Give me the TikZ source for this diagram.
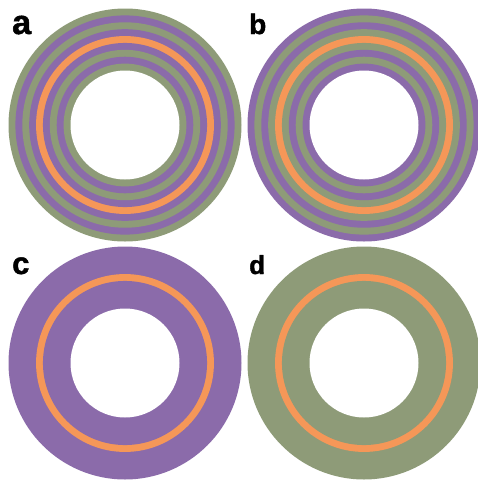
\documentclass[tikz,border=0pt]{standalone}
\usepackage{fontspec}
\setmainfont{Liberation Sans}
\newfontfamily\heavyfont[UprightFont={* Bold},FakeBold=1.5]{Liberation Sans}
\definecolor{ringgreen}{RGB}{142,155,120}
\definecolor{ringpurple}{RGB}{139,107,170}
\definecolor{ringorange}{RGB}{245,151,88}
\newcommand\ringset[3]{%
  \foreach \c [count=\i from 0] in {#3}{\fill[\c] (#1,#2) circle ({116.5-\i*6.889});}%
  \fill[white] (#1,#2) circle (54.5);}
\tikzset{panellabel/.style={anchor=base west,inner sep=0pt}}
\begin{document}
\begin{tikzpicture}[x=1pt,y=-1pt]
\useasboundingbox (0,0) rectangle (478,480);
\clip (0,0) rectangle (478,480);
\ringset{125}{125}{ringgreen,ringpurple,ringgreen,ringpurple,ringorange,ringpurple,ringgreen,ringpurple,ringgreen}
\ringset{364}{125}{ringpurple,ringgreen,ringpurple,ringgreen,ringorange,ringgreen,ringpurple,ringgreen,ringpurple}
\ringset{125}{363}{ringpurple,ringpurple,ringpurple,ringpurple,ringorange,ringpurple,ringpurple,ringpurple,ringpurple}
\ringset{364}{363}{ringgreen,ringgreen,ringgreen,ringgreen,ringorange,ringgreen,ringgreen,ringgreen,ringgreen}
\node[panellabel,font=\heavyfont\fontsize{34}{34}\selectfont] (la) at (12,34) {a};
\node[panellabel,font=\heavyfont\fontsize{28}{28}\selectfont] (lb) at (249,34) {b};
\node[panellabel,font=\heavyfont\fontsize{31}{31}\selectfont] (lc) at (12,274) {c};
\node[panellabel,font=\heavyfont\fontsize{26}{26}\selectfont] (ld) at (249,274) {d};
\end{tikzpicture}
\end{document}
